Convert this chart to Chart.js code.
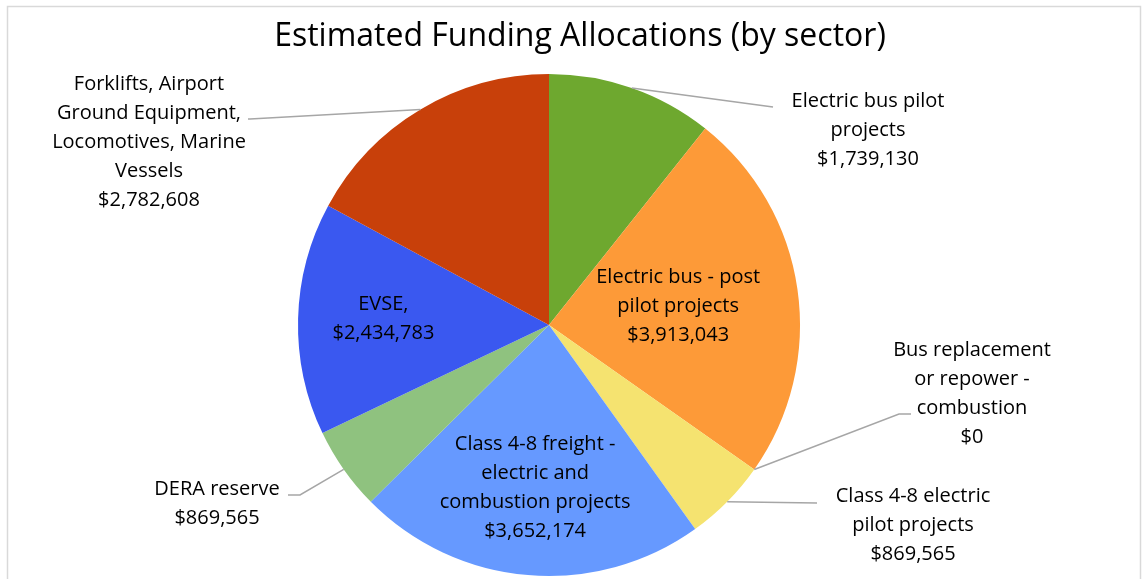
<!DOCTYPE html>
<html>
<head>
<meta charset="utf-8">
<script src="https://cdn.jsdelivr.net/npm/chart.js@4/dist/chart.umd.min.js"></script>
<style>
  html, body { margin: 0; padding: 0; background: #fff; }
  #wrap { width: 1143px; height: 579px; position: relative; }
</style>
</head>
<body>
<div id="wrap"><canvas id="fundingPie"></canvas></div>
<script>
// Sector names (one entry per line of the label) and amounts
const chartTitle = 'Estimated Funding Allocations (by sector)';
const sectors = [
  ['Electric bus pilot', 'projects'],
  ['Electric bus - post', 'pilot projects'],
  ['Bus replacement', 'or repower -', 'combustion'],
  ['Class 4-8 electric', 'pilot projects'],
  ['Class 4-8 freight -', 'electric and', 'combustion projects'],
  ['DERA reserve'],
  ['EVSE,'],
  ['Forklifts, Airport', 'Ground Equipment,', 'Locomotives, Marine', 'Vessels']
];
const amounts = [1739130, 3913043, 0, 869565, 3652174, 869565, 2434783, 2782608];
const sliceColors = ['#6ea82f', '#fd9a38', '#f6e16f', '#f5e370', '#6699ff', '#8fc27f', '#3a58f0', '#c8400a'];

// Label placement: inside labels sit on the slice at a radial fraction,
// outside labels sit at a fixed spot with a leader line (elbow, then end)
const labelPlacement = [
  { outside: true, x: 868, y: 101, elbow: [773, 107], end: [773, 107] },
  { outside: false, r: 0.52 },
  { outside: true, x: 972, y: 350, elbow: [899, 414], end: [911, 414] },
  { outside: true, x: 913, y: 496, elbow: [817, 503], end: [817, 503] },
  { outside: false, r: 0.66, dy: -2 },
  { outside: true, x: 217, y: 489, elbow: [300, 495], end: [288, 495] },
  { outside: false, r: 0.66, dy: -2 },
  { outside: true, x: 149, y: 84, elbow: [250, 119], end: [248, 119] }
];

const money = v => '$' + v.toLocaleString('en-US');

const frameAndLabels = {
  id: 'frameAndLabels',
  beforeDraw(chart) {
    const ctx = chart.ctx;
    ctx.save();
    ctx.strokeStyle = '#d9d9d9';
    ctx.lineWidth = 1.5;
    ctx.strokeRect(7.5, 6.5, 1133, 620);
    // title drawn here so it is not squeezed to the pie's narrow box
    ctx.fillStyle = '#000';
    ctx.font = '32px "Open Sans"';
    ctx.textAlign = 'center';
    ctx.textBaseline = 'alphabetic';
    ctx.fillText(chartTitle, 580, 46);
    ctx.restore();
  },
  afterDatasetsDraw(chart) {
    const ctx = chart.ctx;
    const meta = chart.getDatasetMeta(0);
    const lineH = 29;
    ctx.save();
    ctx.font = '20px "Open Sans"';
    ctx.fillStyle = '#000';
    ctx.textAlign = 'center';
    ctx.textBaseline = 'middle';
    meta.data.forEach((arc, i) => {
      const p = arc.getProps(['x', 'y', 'startAngle', 'endAngle', 'outerRadius'], true);
      const mid = (p.startAngle + p.endAngle) / 2;
      const place = labelPlacement[i];
      const lines = sectors[i].concat([money(amounts[i])]);
      let cx, cy;
      if (place.outside) {
        // leader line from the slice edge
        const ex = p.x + Math.cos(mid) * p.outerRadius;
        const ey = p.y + Math.sin(mid) * p.outerRadius;
        ctx.strokeStyle = '#a6a6a6';
        ctx.lineWidth = 1.5;
        ctx.beginPath();
        ctx.moveTo(ex, ey);
        ctx.lineTo(place.elbow[0], place.elbow[1]);
        ctx.lineTo(place.end[0], place.end[1]);
        ctx.stroke();
        cx = place.x;
        cy = place.y;
      } else {
        const rx = p.x + Math.cos(mid) * p.outerRadius * place.r;
        const ry = p.y + Math.sin(mid) * p.outerRadius * place.r + (place.dy || 0);
        cx = rx;
        cy = ry - (lines.length - 1) * lineH / 2;
      }
      lines.forEach((t, k) => ctx.fillText(t, cx, cy + k * lineH));
    });
    ctx.restore();
  }
};

new Chart(document.getElementById('fundingPie'), {
  type: 'pie',
  data: {
    labels: sectors.map(s => s.join(' ')),
    datasets: [{
      data: amounts,
      backgroundColor: sliceColors,
      borderWidth: 0
    }]
  },
  options: {
    responsive: true,
    maintainAspectRatio: false,
    animation: false,
    layout: { padding: { left: 298, right: 343, top: 74, bottom: 3 } },
    plugins: {
      legend: { display: false },
      tooltip: { enabled: false },
      title: { display: false }
    }
  },
  plugins: [frameAndLabels]
});
</script>
</body>
</html>
